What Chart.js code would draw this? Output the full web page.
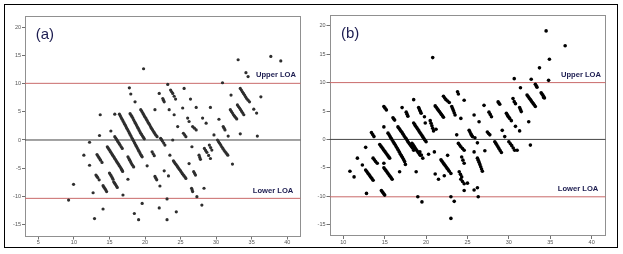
<!DOCTYPE html>
<html><head><meta charset="utf-8">
<script src="https://cdn.jsdelivr.net/npm/chart.js@4"></script>
<style>
html,body{margin:0;padding:0;background:#fff;}
#frame{position:absolute;left:4px;top:4px;width:612px;height:242px;border:1.5px solid #000;}
.wrap{position:absolute;}
#wa{left:7px;top:6px;width:298px;height:240px;}
#wb{left:311px;top:6px;width:305px;height:240px;}
canvas{display:block}
</style></head><body>
<div id="frame"></div>
<div class="wrap" id="wa"><canvas id="ca" width="298" height="240"></canvas></div>
<div class="wrap" id="wb"><canvas id="cb" width="305" height="240"></canvas></div>
<script>
// ---- data (mean of methods on x, difference on y) ----
const panelLabels = ["(a)", "(b)"];
const loaLabels = ["Upper LOA", "Lower LOA"];
const xTicksA = [5, 10, 15, 20, 25, 30, 35, 40];
const xTicksB = [10, 15, 20, 25, 30, 35, 40];
const yTicks = [-15, -10, -5, 0, 5, 10, 15, 20];
const loaA = { upper: 10.1, mean: 0, lower: -10.4 };
const loaB = { upper: 10.0, mean: 0, lower: -10.1 };

const pointsA = [
 [9.25,-10.7],[9.95,-7.9],[11.4,-2.7],[12.2,-0.4],[12.2,-4.5],[12.7,-9.4],[12.9,-14.0],[13.6,0.8],[13.7,4.5],[14.1,-12.3],
 [15.2,1.6],[15.75,4.6],[16.9,-9.8],[17.6,-7.0],[19.8,12.7],[17.8,9.3],[18.0,8.2],[18.6,6.8],[19.6,-11.3],[19.1,-14.2],
 [18.5,-13.1],[20.3,-4.6],[22.0,8.3],[23.2,9.9],[21.4,5.4],[22.1,-8.2],[22.0,-12.1],[23.1,-10.5],[23.1,-14.2],[24.4,-12.8],
 [23.5,-2.7],[22.7,-5.5],[23.3,-6.4],[23.4,5.4],[25.3,5.7],[25.5,9.2],[26.4,7.3],[27.2,5.8],[24.6,2.4],[23.9,0.0],
 [26.2,-4.2],[27.3,-10.1],[28.3,-8.6],[28.0,-11.6],[29.2,5.8],[28.1,3.9],[30.4,3.7],[29.7,0.9],[30.9,10.2],[32.1,8.0],
 [33.1,14.3],[34.2,12.0],[34.5,11.3],[36.3,7.7],[37.7,14.9],[39.1,14.1],[35.3,5.5],[35.7,4.8],[35.8,0.7],[33.4,1.1],
 [31.7,0.7],[32.3,-4.3],[26.6,-1.2],[26.0,3.9],[26.2,3.3],[24.1,4.5],[28.6,3.0],
 [13.25,-2.6],[13.38,-2.85],[13.5,-3.1],[13.63,-3.35],[13.75,-3.6],[13.95,-4.0],
 [13.1,-6.25],[13.23,-6.5],[13.35,-6.7],[13.55,-7.1],
 [14.1,-8.15],[14.23,-8.4],[14.35,-8.65],[14.48,-8.9],[14.6,-9.2],
 [14.7,-1.2],[14.83,-1.45],[14.95,-1.7],[15.08,-1.95],[15.2,-2.2],[15.33,-2.45],[15.45,-2.7],[15.58,-2.95],[15.7,-3.2],[15.83,-3.45],
 [15.95,-3.7],[16.08,-3.95],[16.2,-4.2],[16.33,-4.45],[16.45,-4.7],[16.58,-4.95],[16.7,-5.2],[16.78,-5.4],[16.85,-5.6],
 [15.0,-5.9],[15.13,-6.15],[15.25,-6.4],[15.38,-6.7],[15.5,-7.0],
 [15.6,-7.45],[15.73,-7.7],[15.85,-7.95],[15.98,-8.2],[16.1,-8.45],
 [15.75,0.6],[15.88,0.35],[16.0,0.1],[16.13,-0.15],[16.25,-0.4],[16.38,-0.65],[16.5,-0.9],[16.65,-1.2],[16.8,-1.5],
 [16.4,4.6],[16.53,4.3],[16.65,4.0],[16.78,3.7],[16.9,3.4],[17.03,3.1],[17.15,2.8],[17.28,2.5],[17.4,2.2],[17.53,1.9],
 [17.65,1.6],[17.78,1.3],[17.9,1.0],[18.03,0.7],[18.15,0.4],[18.28,0.1],[18.4,-0.2],[18.53,-0.5],[18.65,-0.8],[18.78,-1.1],
 [18.9,-1.4],[19.03,-1.7],[19.15,-2.0],[19.28,-2.3],[19.4,-2.6],[19.5,-2.8],[19.6,-3.0],
 [17.9,4.7],[18.03,4.45],[18.15,4.2],[18.28,3.9],[18.4,3.6],[18.53,3.3],[18.65,3.0],[18.78,2.7],[18.9,2.4],[19.03,2.1],
 [19.15,1.8],[19.28,1.5],[19.4,1.2],[19.53,0.95],[19.65,0.7],[19.78,0.45],[19.9,0.2],
 [19.4,5.4],[19.53,5.15],[19.65,4.9],[19.78,4.6],[19.9,4.3],[20.03,4.05],[20.15,3.8],[20.28,3.5],[20.4,3.2],[20.53,2.95],
 [20.65,2.7],[20.78,2.4],[20.9,2.1],[21.03,1.85],[21.15,1.6],[21.28,1.35],[21.4,1.1],[21.55,0.85],[21.7,0.6],
 [17.6,-3.0],[17.73,-3.3],[17.85,-3.6],[17.98,-3.9],[18.1,-4.2],[18.25,-4.5],[18.4,-4.8],
 [21.0,-2.1],[21.15,-2.45],[21.3,-2.8],[21.4,-6.5],[21.53,-6.8],[21.65,-7.1],
 [22.2,0.3],[22.33,0.05],[22.45,-0.2],[22.63,-0.55],[22.8,-0.9],
 [24.0,-3.7],[24.13,-3.95],[24.25,-4.2],[24.38,-4.4],[24.5,-4.6],[24.63,-4.85],[24.75,-5.1],[24.88,-5.3],[25.0,-5.5],
 [25.13,-5.75],[25.25,-6.0],[25.38,-6.2],[25.5,-6.4],[25.63,-6.6],[25.75,-6.85],
 [22.5,7.4],[22.6,7.1],[22.7,6.8],[23.6,8.9],[23.75,8.6],[23.9,8.3],[24.1,7.8],[24.3,7.3],
 [33.4,9.2],[33.55,8.9],[33.7,8.6],[33.85,8.3],[34.0,8.0],[34.15,7.7],[34.3,7.4],[34.5,7.1],[34.7,6.8],
 [32.0,5.4],[32.15,5.1],[32.3,4.8],[32.45,4.5],[32.6,4.25],[32.75,4.0],[32.9,3.75],
 [33.0,6.25],[33.15,5.95],[33.3,5.7],[33.45,5.4],[33.6,5.1],[33.75,4.8],[33.9,4.5],
 [31.0,2.4],[31.13,2.1],[31.25,1.8],
 [30.2,0.0],[30.35,-0.3],[30.5,-0.6],[30.65,-0.9],[30.8,-1.2],[30.95,-1.5],[31.1,-1.8],[31.25,-2.05],[31.4,-2.3],[31.53,-2.5],[31.65,-2.7],
 [29.05,-0.9],[29.23,-1.35],[29.4,-1.8],[28.35,-1.5],[28.53,-1.85],[28.7,-2.2],[28.95,-2.75],[29.2,-3.3],
 [26.85,-5.65],[26.98,-5.95],[27.1,-6.25],[26.55,-8.6],[26.63,-8.9],[26.7,-9.2],
 [26.7,2.4],[26.95,2.1],[27.2,1.8],[25.4,1.2],[25.58,0.9],[25.75,0.6],[27.6,-2.7],[27.7,-3.1],[27.8,-3.45]
];

const pointsB = [
 [10.8,-5.6],[11.3,-6.6],[11.7,-3.3],[12.3,-4.5],[12.7,-1.4],[12.8,-9.5],[14.9,2.2],[14.9,-4.2],[16.8,-5.7],[17.1,5.6],
 [18.5,7.0],[18.8,-5.7],[19.0,-10.1],[19.5,-11.0],[19.8,4.0],[19.9,2.9],[20.3,-2.6],[20.8,14.4],[21.0,-2.2],[21.1,-6.1],
 [21.2,1.8],[21.5,-7.0],[22.2,-6.4],[22.6,-2.8],[23.0,-10.1],[23.0,-13.9],[23.4,-10.9],[23.7,0.8],[24.2,3.7],[24.6,6.9],
 [24.6,-9.0],[25.0,-7.7],[25.8,-2.2],[25.8,4.3],[25.9,0.3],[26.2,-0.6],[26.4,3.1],[26.2,-8.5],[25.8,-8.9],[26.3,-10.1],
 [27.0,6.0],[27.1,-2.0],[29.2,1.6],[29.5,0.5],[30.3,3.3],[30.65,10.7],[30.8,2.3],[31.0,-1.9],[31.3,1.5],[31.4,9.1],
 [32.4,3.1],[32.6,-1.0],[33.7,12.6],[32.7,10.6],[34.5,19.1],[34.8,10.4],[34.9,14.1],[36.8,16.5],[34.2,7.4],[30.5,7.2],
 [12.7,-5.4],[12.83,-5.65],[12.95,-5.9],[13.08,-6.15],[13.2,-6.4],[13.33,-6.65],[13.45,-6.9],[13.6,-7.2],
 [13.4,1.2],[13.55,0.85],[13.7,0.5],[13.6,-3.3],[13.75,-3.6],[13.9,-3.9],[14.1,-4.2],
 [14.4,-0.9],[14.53,-1.15],[14.65,-1.4],[14.78,-1.65],[14.9,-1.9],[15.03,-2.15],[15.15,-2.4],[15.28,-2.65],[15.4,-2.9],[15.5,-3.1],[15.6,-3.3],
 [14.9,-5.0],[15.03,-5.25],[15.15,-5.5],[15.28,-5.75],[15.4,-6.0],[15.53,-6.25],[15.65,-6.5],[15.78,-6.75],[15.9,-7.0],
 [14.6,-9.0],[14.7,-9.2],[14.8,-9.4],[14.9,-9.6],[15.0,-9.8],[14.9,5.8],[15.05,5.5],[15.2,5.2],
 [15.4,1.1],[15.53,0.8],[15.65,0.5],[15.78,0.2],[15.9,-0.1],[16.03,-0.4],[16.15,-0.7],[16.28,-1.0],[16.4,-1.3],[16.53,-1.6],
 [16.65,-1.9],[16.78,-2.25],[16.9,-2.6],[17.03,-2.9],[17.15,-3.2],[17.28,-3.55],[17.4,-3.9],[17.5,-4.4],
 [16.0,3.8],[16.1,3.6],[16.2,3.4],
 [16.6,2.2],[16.73,1.95],[16.85,1.7],[16.98,1.45],[17.1,1.2],[17.23,0.9],[17.35,0.6],[17.48,0.35],[17.6,0.1],[17.73,-0.2],
 [17.85,-0.5],[17.98,-0.75],[18.1,-1.0],[18.23,-1.25],[18.35,-1.5],[18.5,-1.9],
 [17.6,4.8],[17.7,4.45],[17.8,4.1],
 [18.5,2.9],[18.63,2.6],[18.75,2.3],[18.88,2.05],[19.0,1.8],[19.13,1.5],[19.25,1.2],[19.38,0.95],[19.5,0.7],[19.63,0.4],[19.75,0.1],[19.88,-0.15],[20.0,-0.4],
 [18.3,-0.7],[18.43,-0.95],[18.55,-1.2],[18.68,-1.5],[18.8,-1.8],[18.93,-2.05],[19.05,-2.3],[19.18,-2.55],[19.3,-2.8],
 [19.1,5.6],[19.18,5.35],[19.25,5.1],[19.33,4.85],[19.4,4.6],[19.25,-2.2],[19.43,-2.75],[19.6,-3.3],
 [20.5,3.3],[20.6,2.85],[20.7,2.4],[20.8,1.95],[20.9,1.5],
 [21.1,5.9],[21.23,5.65],[21.35,5.4],[21.48,5.15],[21.6,4.9],[21.73,4.65],[21.85,4.4],[21.98,4.15],[22.1,3.9],
 [21.8,-3.6],[21.93,-3.85],[22.05,-4.1],[22.18,-4.35],[22.3,-4.6],[22.43,-4.85],[22.55,-5.1],[22.68,-5.35],[22.8,-5.6],[23.0,-6.0],
 [22.1,7.6],[22.25,7.3],[22.4,7.0],[22.6,6.75],[22.8,6.5],[23.1,5.8],[23.2,5.45],[23.3,5.1],[23.4,4.7],[23.5,4.3],[23.8,8.4],[23.9,8.0],
 [23.9,-0.7],[24.05,-1.0],[24.2,-1.3],[24.4,-1.6],[24.6,-1.9],[24.3,-3.1],[24.45,-3.65],[24.6,-4.2],
 [24.0,-5.7],[24.15,-6.15],[24.3,-6.6],[24.2,-7.0],[24.4,-7.4],[24.6,-7.8],
 [25.2,1.6],[25.3,1.3],[25.4,1.0],[25.5,0.75],[25.6,0.5],
 [26.2,-3.3],[26.3,-3.65],[26.4,-4.0],[26.5,-4.4],[26.6,-4.8],[26.7,-5.2],[26.8,-5.6],
 [27.4,1.3],[27.55,1.05],[27.7,0.8],[27.6,4.8],[27.75,4.4],[27.9,4.0],
 [28.3,-0.4],[28.43,-0.7],[28.55,-1.0],[28.68,-1.3],[28.8,-1.6],[28.95,-1.95],[29.1,-2.3],
 [28.7,6.6],[28.8,6.4],[28.9,6.2],[29.7,4.6],[29.8,4.35],[29.9,4.1],[30.0,3.9],[30.1,3.7],
 [30.0,-0.4],[30.18,-0.75],[30.35,-1.1],[30.53,-1.5],[30.7,-1.9],[30.8,6.3],[30.65,6.65],[31.3,5.6],[31.4,5.25],[31.5,4.9],
 [32.2,7.8],[32.33,7.55],[32.45,7.3],[32.58,7.05],[32.7,6.8],[32.83,6.55],[32.95,6.3],[33.08,6.05],[33.2,5.8],
 [33.2,9.7],[33.3,9.45],[33.4,9.2],[33.9,8.2],[34.0,8.0],[34.1,7.8],[34.2,7.55],[34.3,7.3]
];

const FONT = "'Liberation Sans', Arial, sans-serif";

const annot = {
  id: 'annot',
  beforeDatasetsDraw(chart) {
    const ca = chart.chartArea, ctx = chart.ctx;
    ctx.save();
    ctx.strokeStyle = '#909090';
    ctx.lineWidth = 1;
    ctx.strokeRect(Math.round(ca.left) + 0.5, Math.round(ca.top) + 0.5, Math.round(ca.right - ca.left) - 1, Math.round(ca.bottom - ca.top) - 1);
    ctx.restore();
  },
  afterDraw(chart, args, o) {
    const ca = chart.chartArea, ctx = chart.ctx;
    ctx.save();
    ctx.fillStyle = '#1c1c50';
    ctx.font = '15px ' + FONT;
    ctx.textBaseline = 'middle';
    ctx.textAlign = 'left';
    ctx.fillText(o.label, ca.left + o.labelDx, ca.top + 19);
    ctx.font = 'bold 7.6px ' + FONT;
    ctx.textAlign = 'right';
    const ys = chart.scales.y;
    ctx.fillText(loaLabels[0], ca.right - o.upDx, ys.getPixelForValue(o.upper) - 8);
    ctx.fillText(loaLabels[1], ca.right - o.loDx, ys.getPixelForValue(o.lower) - 7.5);
    ctx.restore();
  }
};

function makeChart(id, pts, loa, xmin, xmax, ymin, ymax, xTicks, padRight, padTop, yW, xH, dotColor, dotR, opt) {
  const hline = (v, color) => ({
    type: 'line', data: [{x: xmin, y: v}, {x: xmax, y: v}], borderColor: color, borderWidth: 1,
    pointRadius: 0, order: 2, parsing: false
  });
  return new Chart(document.getElementById(id), {
    type: 'scatter',
    data: {
      datasets: [
        { data: pts.map(p => ({x: p[0], y: p[1]})), backgroundColor: dotColor, borderWidth: 0,
          pointRadius: dotR, pointHoverRadius: dotR, order: 1 },
        hline(loa.upper, '#c96a6a'),
        hline(loa.mean, '#454545'),
        hline(loa.lower, '#c96a6a')
      ]
    },
    options: {
      responsive: false, animation: false, devicePixelRatio: 1,
      layout: { padding: { left: 0, right: padRight, top: padTop, bottom: 0 } },
      plugins: { legend: { display: false }, tooltip: { enabled: false }, annot: opt },
      scales: {
        x: {
          type: 'linear', min: xmin, max: xmax,
          afterBuildTicks: s => { s.ticks = xTicks.map(v => ({value: v})); },
          afterFit: s => { s.height = xH; },
          border: { display: false },
          grid: { display: true, drawOnChartArea: false, drawTicks: true, tickLength: 3, color: '#707070' },
          ticks: { font: { size: 5.5, family: FONT }, color: '#555', padding: 0, maxRotation: 0 }
        },
        y: {
          type: 'linear', min: ymin, max: ymax,
          afterBuildTicks: s => { s.ticks = yTicks.map(v => ({value: v})); },
          afterFit: s => { s.width = yW; },
          border: { display: false },
          grid: { display: true, drawOnChartArea: false, drawTicks: true, tickLength: 3, color: '#707070' },
          ticks: { font: { size: 5.5, family: FONT }, color: '#555', padding: 1 }
        }
      }
    },
    plugins: [annot]
  });
}

makeChart('ca', pointsA, loaA, 3.12, 41.9, -17.2, 22.1, xTicksA, 4.3, 10, 18, 9.5, '#2e2e2e', 1.6,
  { label: panelLabels[0], labelDx: 10.7, upDx: 4.7, loDx: 7.4, upper: loaA.upper, lower: loaA.lower });
makeChart('cb', pointsB, loaB, 8.33, 41.7, -17.0, 21.9, xTicksB, 10.3, 9, 18.5, 10, '#000000', 1.8,
  { label: panelLabels[1], labelDx: 11.5, upDx: 4.7, loDx: 7.4, upper: loaB.upper, lower: loaB.lower });
</script>
</body></html>
